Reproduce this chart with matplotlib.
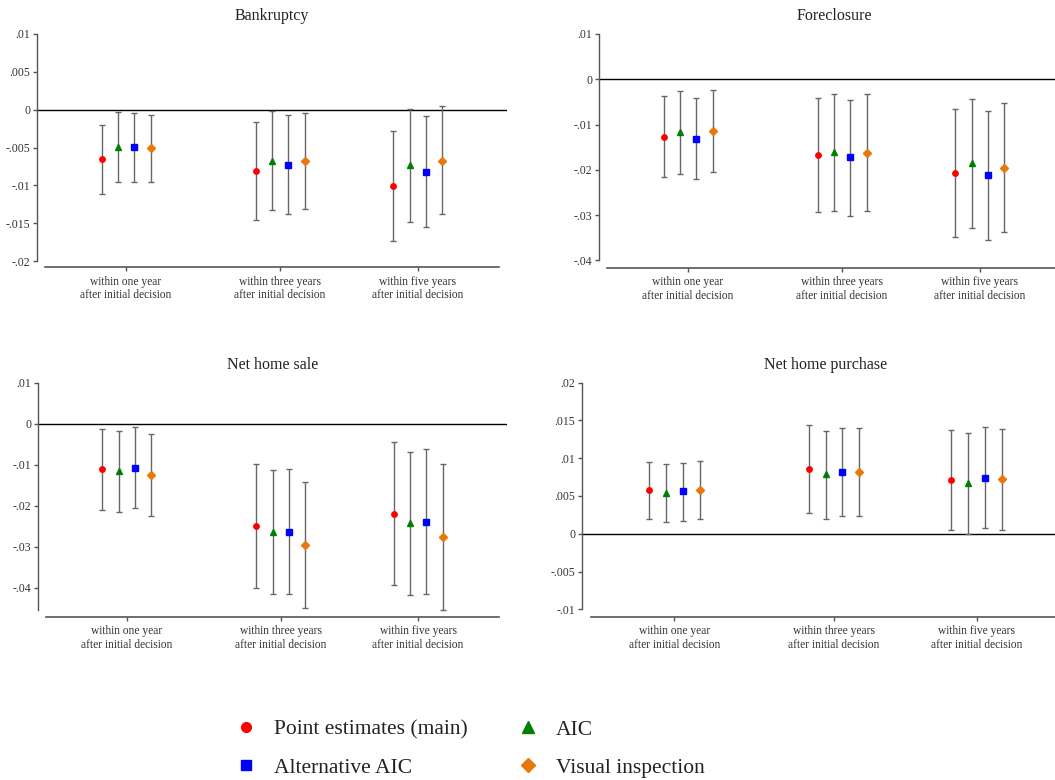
"""
Robustness of the RD estimates: four outcomes, three horizons, four bandwidth choices.
"""
import numpy as np
import matplotlib
matplotlib.use("Agg")
import matplotlib.pyplot as plt
from matplotlib.lines import Line2D

plt.rcParams['font.family'] = ['Liberation Serif', 'DejaVu Serif']

#%%
# categories and series
horizons = ["within one year\nafter initial decision",
            "within three years\nafter initial decision",
            "within five years\nafter initial decision"]
cat_pos = np.array([1.0, 2.056, 3.0])

series = ["Point estimates (main)", "AIC", "Alternative AIC", "Visual inspection"]
colors = ["#ff0000", "#008000", "#0000ff", "#e8780c"]
markers = ["o", "^", "s", "D"]
msizes = [3.9, 4.6, 3.7, 3.6]

titles = ["Bankruptcy", "Foreclosure", "Net home sale", "Net home purchase"]

# estimates [series][horizon], lower and upper CI bounds
bank_est = [[-0.00655, -0.00809, -0.01011],
            [-0.00488, -0.00673, -0.00734],
            [-0.00493, -0.00730, -0.00822],
            [-0.00510, -0.00677, -0.00673]]
bank_lo = [[-0.01113, -0.01456, -0.01741],
           [-0.00959, -0.01332, -0.01478],
           [-0.00950, -0.01381, -0.01552],
           [-0.00959, -0.01315, -0.01385]]
bank_hi = [[-0.00202, -0.00163, -0.00277],
           [-0.00035, -0.00018, 0.00004],
           [-0.00044, -0.00070, -0.00088],
           [-0.00066, -0.00040, 0.00053]]

fore_est = [[-0.01265, -0.01669, -0.02074],
            [-0.01162, -0.01603, -0.01846],
            [-0.01309, -0.01728, -0.02125],
            [-0.01140, -0.01618, -0.01956]]
fore_lo = [[-0.02169, -0.02941, -0.03485],
           [-0.02088, -0.02904, -0.03279],
           [-0.02213, -0.03015, -0.03544],
           [-0.02059, -0.02904, -0.03382]]
fore_hi = [[-0.00360, -0.00404, -0.00654],
           [-0.00257, -0.00331, -0.00426],
           [-0.00404, -0.00449, -0.00699],
           [-0.00235, -0.00331, -0.00522]]

sale_est = [[-0.01114, -0.02496, -0.02203],
            [-0.01154, -0.02642, -0.02423],
            [-0.01073, -0.02642, -0.02390],
            [-0.01252, -0.02967, -0.02756]]
sale_lo = [[-0.02098, -0.04000, -0.03943],
           [-0.02146, -0.04163, -0.04187],
           [-0.02065, -0.04154, -0.04154],
           [-0.02252, -0.04496, -0.04537]]
sale_hi = [[-0.00130, -0.00984, -0.00447],
           [-0.00171, -0.01130, -0.00683],
           [-0.00073, -0.01114, -0.00626],
           [-0.00252, -0.01431, -0.00976]]

purch_est = [[0.00574, 0.00861, 0.00711],
             [0.00543, 0.00786, 0.00671],
             [0.00561, 0.00812, 0.00742],
             [0.00578, 0.00812, 0.00720]]
purch_lo = [[0.00199, 0.00278, 0.00044],
            [0.00159, 0.00194, -0.00009],
            [0.00172, 0.00230, 0.00071],
            [0.00199, 0.00230, 0.00044]]
purch_hi = [[0.00949, 0.01439, 0.01377],
            [0.00918, 0.01360, 0.01333],
            [0.00936, 0.01404, 0.01417],
            [0.00958, 0.01404, 0.01391]]

yticks = [[-0.02, -0.015, -0.01, -0.005, 0, 0.005, 0.01],
          [-0.04, -0.03, -0.02, -0.01, 0, 0.01],
          [-0.04, -0.03, -0.02, -0.01, 0, 0.01],
          [-0.01, -0.005, 0, 0.005, 0.01, 0.015, 0.02]]

panels = [(bank_est, bank_lo, bank_hi),
          (fore_est, fore_lo, fore_hi),
          (sale_est, sale_lo, sale_hi),
          (purch_est, purch_lo, purch_hi)]

#%%
W, H = 1055, 780
fig = plt.figure(figsize=(W / 100, H / 100), dpi=100)

# axes boxes in pixels: left, right, top, bottom ; and y-limits
boxes = [(37, 507, 34, 267.0), (599, 1069, 34, 267.7),
         (38, 507, 382.5, 616.7), (582, 1069, 382.7, 616.7)]
ylims = [(-0.02079, 0.01), (-0.04163, 0.01), (-0.0471, 0.01), (-0.01098, 0.02)]

offsets = (np.arange(4) - 1.5) * 0.112
axcol = "#555555"


def stata_fmt(v):
    s = f"{v:g}"
    if s == "0" or s == "-0":
        return "0"
    return s.replace("0.", ".")


for k, (est, lo, hi) in enumerate(panels):
    l, r, t, b = boxes[k]
    ax = fig.add_axes([l / W, 1 - b / H, (r - l) / W, (b - t) / H])
    ax.set_xlim(0.39, 3.61)
    ax.set_ylim(*ylims[k])

    ax.axhline(0, color="black", lw=1.0, zorder=1)

    for i in range(4):
        e = np.array(est[i])
        yerr = [e - np.array(lo[i]), np.array(hi[i]) - e]
        ax.errorbar(cat_pos + offsets[i], e, yerr=yerr, fmt="none",
                    ecolor="#666666", elinewidth=1.0, capsize=2.3,
                    capthick=1.0, zorder=2)
        ax.plot(cat_pos + offsets[i], e, linestyle="none", marker=markers[i],
                markersize=msizes[i], color=colors[i], zorder=3)

    ax.set_title(titles[k], fontsize=11.5, color="#222222", pad=10)

    for s in ["top", "right"]:
        ax.spines[s].set_visible(False)
    ax.spines["left"].set_color(axcol)
    ax.spines["bottom"].set_color(axcol)
    ax.spines["left"].set_linewidth(1.0)
    ax.spines["bottom"].set_linewidth(1.2)
    ymin = min(min(row) for row in lo)
    ax.spines["left"].set_bounds(min(ymin, yticks[k][0]), yticks[k][-1])
    ax.spines["bottom"].set_bounds(0.447, 3.555)

    ax.set_yticks(yticks[k])
    ax.set_yticklabels([stata_fmt(v) for v in yticks[k]])
    ax.set_xticks(cat_pos)
    ax.set_xticklabels(horizons, linespacing=1.2, va="top")
    ax.tick_params(axis="y", length=3, width=1.0, color=axcol, pad=2,
                   labelsize=8.5, labelcolor="#333333")
    ax.tick_params(axis="x", length=3, width=1.0, color=axcol, pad=3.2,
                   labelsize=8.3, labelcolor="#333333")

#%%
# legend in two single-column blocks
handles = [Line2D([], [], linestyle="none", marker=markers[i], color=colors[i],
                  markersize=[7, 8.2, 6.8, 7.0][i]) for i in range(4)]
leg_kw = dict(frameon=False, fontsize=15.5, handlelength=1.0, handletextpad=0.8,
              borderpad=0, borderaxespad=0, labelspacing=0.83, loc="center left")
leg1 = fig.legend([handles[0], handles[2]], [series[0], series[2]],
                  bbox_to_anchor=(235.3 / W, 1 - 748.5 / H), **leg_kw)
leg2 = fig.legend([handles[1], handles[3]], [series[1], series[3]],
                  bbox_to_anchor=(517.3 / W, 1 - 748.5 / H), **leg_kw)
for leg in (leg1, leg2):
    for txt in leg.get_texts():
        txt.set_color("#222222")

fig.savefig("out.png", dpi=100)
